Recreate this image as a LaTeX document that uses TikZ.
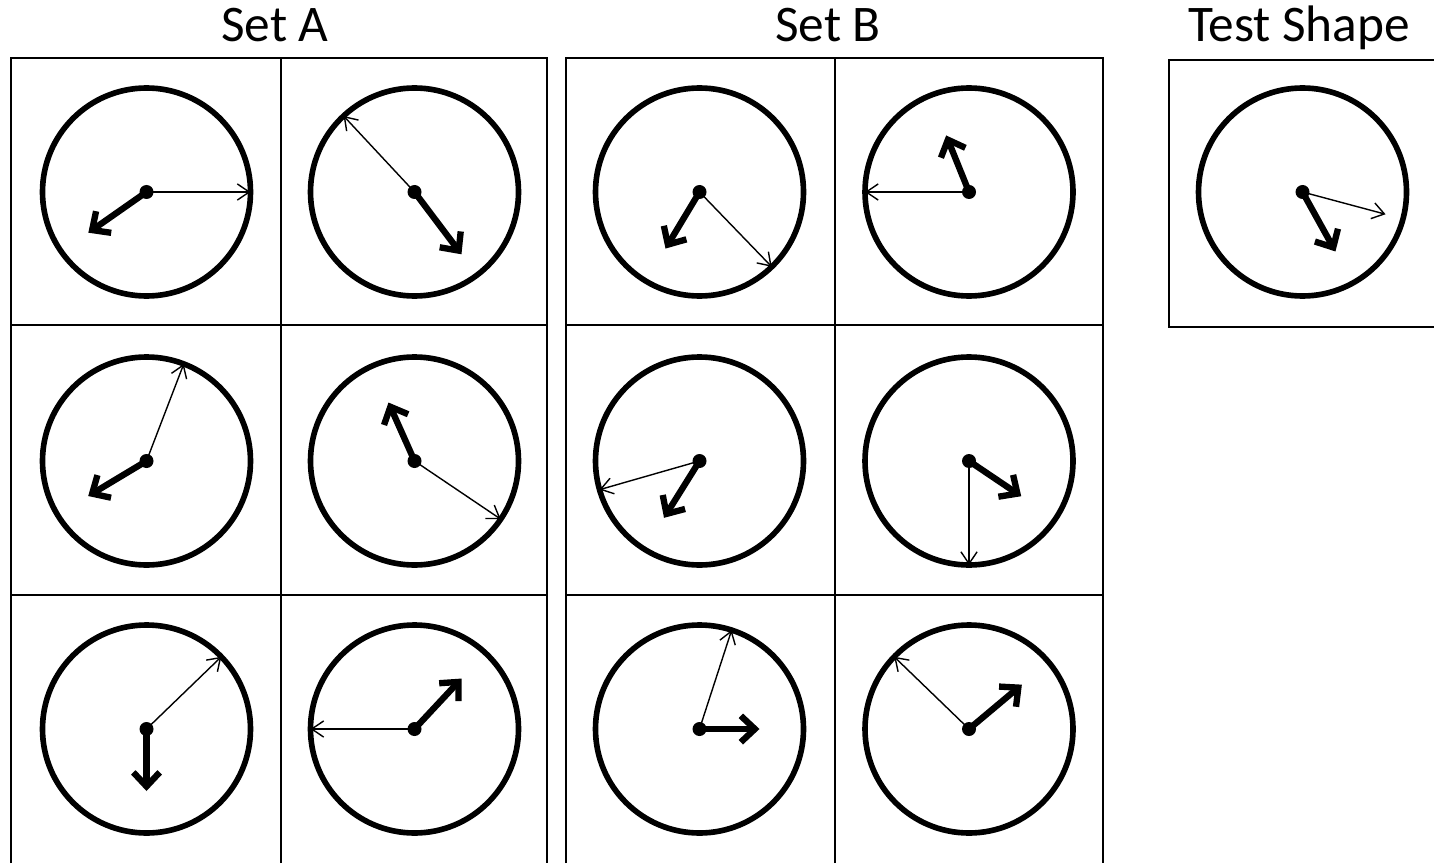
\documentclass[tikz,border=0pt]{standalone}
\usepackage{fontspec}
\setmainfont{Carlito}
\usetikzlibrary{arrows.meta}
\begin{document}
\begin{tikzpicture}[x=0.01cm, y=0.01cm,
	dial/.style = {line width=1.6pt},
	pivot/.style = {fill=black},
	hand/.style = {line width=1.8pt, -{Straight Barb[length=4pt, width=7.5pt]}},
	pointer/.style = {line width=0.4pt, -{Straight Barb[length=3.4pt, width=4.6pt]}},
	frame/.style = {line width=0.6pt},
	title/.style = {anchor=base, font=\fontsize{14.6}{17}\selectfont}]
	\useasboundingbox (0,0) rectangle (1434,863);
	%
	\node[title] (setA) at (275,821) {Set A};
	\node[title] (setB) at (828,821) {Set B};
	\node[title] (test) at (1299,821) {Test Shape};
	%
	\draw[frame] (11,0)--(11,805)--(547,805)--(547,0);
	\draw[frame] (281,0)--(281,805);
	\draw[frame] (11,538)--(547,538);
	\draw[frame] (11,268)--(547,268);
	%
	\draw[frame] (566,0)--(566,805)--(1103,805)--(1103,0);
	\draw[frame] (835,0)--(835,805);
	\draw[frame] (566,538)--(1103,538);
	\draw[frame] (566,268)--(1103,268);
	%
	\draw[frame] (1440,536)--(1169,536)--(1169,803)--(1440,803);
	%
	\coordinate (a11) at (146.5,671);
	\coordinate (a12) at (414.5,671);
	\coordinate (a21) at (146.5,402);
	\coordinate (a22) at (414.5,402);
	\coordinate (a31) at (146.5,134);
	\coordinate (a32) at (414.5,134);
	\coordinate (b11) at (699.5,671);
	\coordinate (b12) at (969,671);
	\coordinate (b21) at (699.5,402);
	\coordinate (b22) at (969,402);
	\coordinate (b31) at (699.5,134);
	\coordinate (b32) at (969,134);
	\coordinate (t) at (1302.5,671);
	%
	\foreach \c in {a11,a12,a21,a22,a31,a32,b11,b12,b21,b22,b31,b32,t}{
		\draw[dial] (\c) circle (104);
		\fill[pivot] (\c) circle (7);
	}
	% Set A
	\draw[pointer] (a11)--++(0:104);
	\draw[hand] (a11)--++(215:71);
	\draw[pointer] (a12)--++(133:104);
	\draw[hand] (a12)--++(-53:78);
	%
	\draw[pointer] (a21)--++(69:104);
	\draw[hand] (a21)--++(211:68);
	\draw[pointer] (a22)--++(-34:104);
	\draw[hand] (a22)--++(114:64);
	%
	\draw[pointer] (a31)--++(44:104);
	\draw[hand] (a31)--++(-90:62);
	\draw[pointer] (a32)--++(180:104);
	\draw[hand] (a32)--++(47:69);
	% Set B
	\draw[pointer] (b11)--++(-46:104);
	\draw[hand] (b11)--++(239:66);
	\draw[pointer] (b12)--++(180:104);
	\draw[hand] (b12)--++(112:61);
	%
	\draw[pointer] (b21)--++(196:104);
	\draw[hand] (b21)--++(238:67);
	\draw[pointer] (b22)--++(-90:104);
	\draw[hand] (b22)--++(-34:63);
	%
	\draw[pointer] (b31)--++(72:104);
	\draw[hand] (b31)--++(0:60);
	\draw[pointer] (b32)--++(136:104);
	\draw[hand] (b32)--++(40:69);
	% test shape
	\draw[pointer] (t)--++(-15:86);
	\draw[hand] (t)--++(-61:68);
\end{tikzpicture}
\end{document}
